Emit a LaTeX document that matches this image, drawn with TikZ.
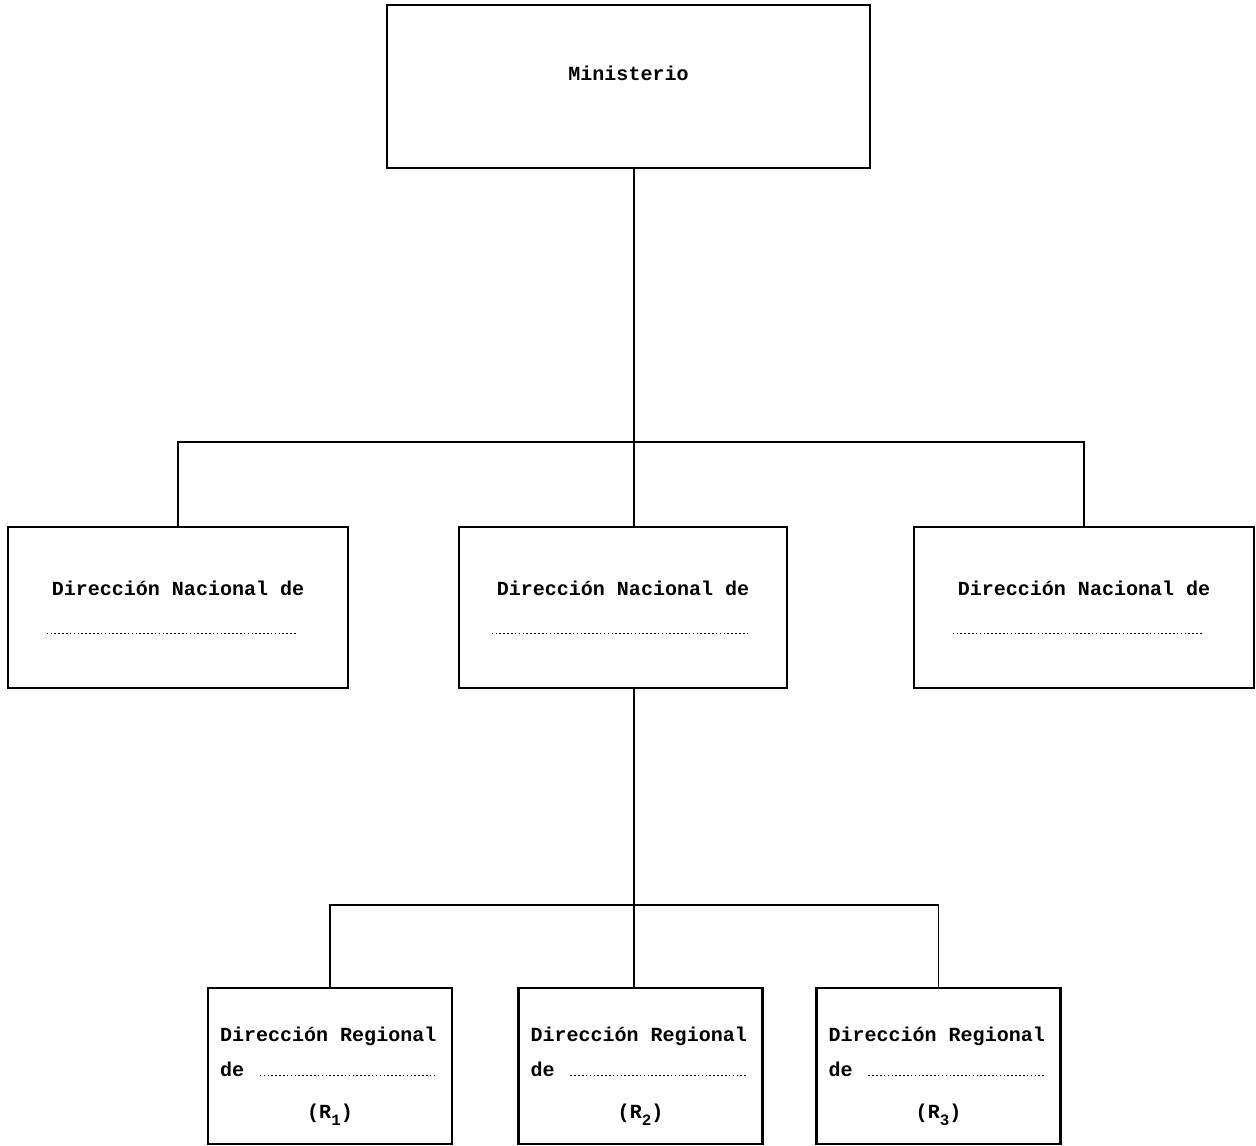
\documentclass[tikz,border=0pt]{standalone}
\usepackage{fontspec}
\setmonofont{Liberation Mono}
\usetikzlibrary{positioning,calc}
% dotted blank line to be filled in
\newcommand{\dotlead}{\leaders\hbox to 2.2pt{\hss\rule{0.9pt}{0.9pt}\hss}\hfill}
\newcommand{\blank}[1]{\hbox to #1{\dotlead}}
\newcommand{\blankfill}{\null\dotlead\kern0pt}
\tikzset{typed/.style={font=\ttfamily\bfseries\fontsize{11.4}{20}\selectfont,
    execute at begin node={\spaceskip=0.6em\relax}}}
\tikzset{minbox/.style={draw,line width=1.6pt,typed,minimum width=9.66cm,minimum height=3.26cm,inner sep=0pt}}
\tikzset{nacbox/.style={draw,line width=1.6pt,typed,minimum height=3.22cm,text width=5.3cm,align=center,inner sep=0pt}}
\tikzset{regbox/.style={draw,line width=1.6pt,typed,minimum width=4.88cm,minimum height=3.12cm,text width=4.4cm,align=left,inner sep=0pt}}
\tikzset{link/.style={line width=1.1pt}}

\begin{document}
\begin{tikzpicture}[x=0.02cm,y=-0.02cm]
\useasboundingbox (0,0) rectangle (1256,1145);

    \node[minbox,text depth=0.52cm] (min) at (628.5,86.5) {Ministerio};

    \node[nacbox,minimum width=6.8cm] (nleft) at (178,607.5)
        {Dirección Nacional de\\[2pt]\blank{5.04cm}};
    \node[nacbox,minimum width=6.56cm] (nmid) at (623,607.5)
        {Dirección Nacional de\\[2pt]\blank{5.24cm}};
    \node[nacbox,minimum width=6.8cm] (nright) at (1084,607.5)
        {Dirección Nacional de\\[2pt]\blank{5.06cm}};

    \node[regbox] (rleft) at (330,1066)
        {\rule{0pt}{20pt}Dirección Regional\\ de \blankfill\\[4pt]\makebox[\linewidth]{(R\raisebox{-0.7ex}{\small 1})}};
    \node[regbox] (rmid) at (640.5,1066)
        {\rule{0pt}{20pt}Dirección Regional\\ de \blankfill\\[4pt]\makebox[\linewidth]{(R\raisebox{-0.7ex}{\small 2})}};
    \node[regbox] (rright) at (938.5,1066)
        {\rule{0pt}{20pt}Dirección Regional\\ de \blankfill\\[4pt]\makebox[\linewidth]{(R\raisebox{-0.7ex}{\small 3})}};

    % trunk and bars
    \coordinate (trunk) at (634,0);
    \coordinate (bar1) at (634,442);
    \coordinate (bar2) at (634,905);

    \draw[link] (min.south -| trunk) -- (nmid.north -| trunk);
    \draw[link] (nleft.north) |- (bar1) -| (nright.north);

    \draw[link] (nmid.south -| trunk) -- (rmid.north -| trunk);
    \draw[link] (rleft.north) |- (bar2) -| (rright.north);

\end{tikzpicture}
\end{document}
